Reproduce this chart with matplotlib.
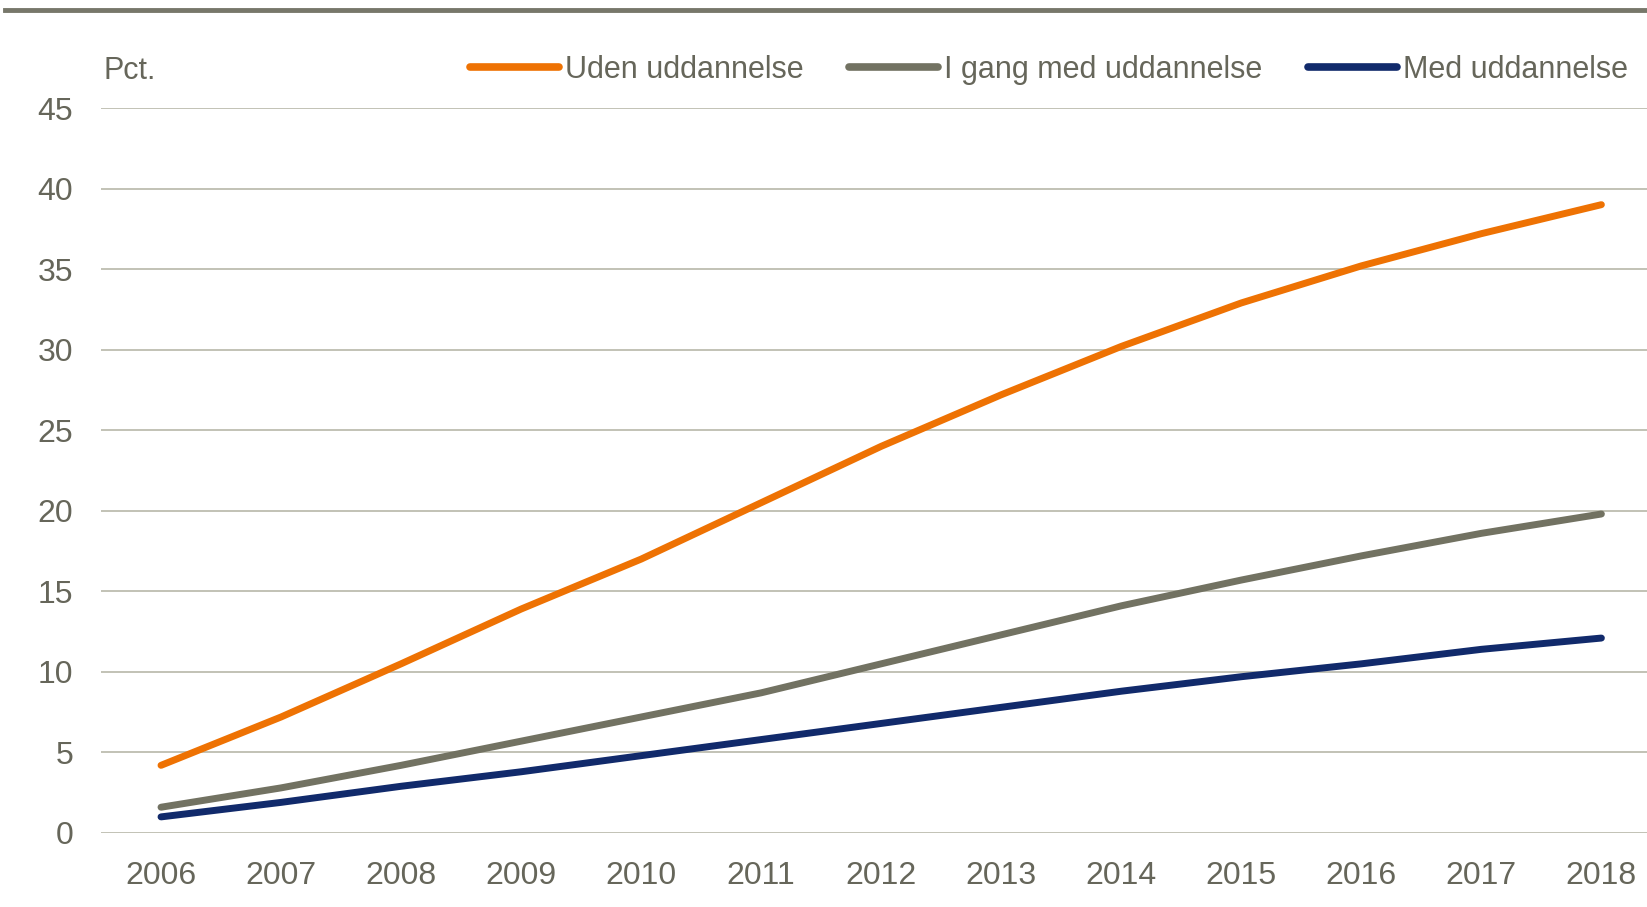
import matplotlib
matplotlib.use("Agg")
import matplotlib.pyplot as plt

years = [2006, 2007, 2008, 2009, 2010, 2011, 2012, 2013, 2014, 2015, 2016, 2017, 2018]
uden = [4.2, 7.2, 10.5, 13.9, 17.0, 20.5, 24.0, 27.2, 30.2, 32.9, 35.2, 37.2, 39.0]
igang = [1.6, 2.8, 4.2, 5.7, 7.2, 8.7, 10.5, 12.3, 14.1, 15.7, 17.2, 18.6, 19.8]
med = [1.0, 1.9, 2.9, 3.8, 4.8, 5.8, 6.8, 7.8, 8.8, 9.7, 10.5, 11.4, 12.1]
labels = ["Uden uddannelse", "I gang med uddannelse", "Med uddannelse"]
colors = ["#ee7203", "#727262", "#112a6b"]
yticks = [0, 5, 10, 15, 20, 25, 30, 35, 40, 45]

plt.rcParams["font.family"] = ["Liberation Sans", "DejaVu Sans"]
txt = "#66665a"

fig = plt.figure(figsize=(16.47, 9.07), dpi=100)
ax = fig.add_axes([101/1647, (907-833)/907, 1-101/1647, (833-108)/907])

for s, lab, c in zip([uden, igang, med], labels, colors):
    ax.plot(years, s, color=c, lw=5, solid_capstyle="round", label=lab, clip_on=False)

ax.set_xlim(2005.5, 2018.38)
ax.set_ylim(0, 45)
ax.set_yticks(yticks)
ax.set_xticks(years)
ax.grid(axis="y", color="#bdbdb0", lw=1.3)
ax.set_axisbelow(True)
for sp in ax.spines.values():
    sp.set_visible(False)
ax.tick_params(length=0, labelsize=23, colors=txt)
ax.tick_params(axis="y", pad=20)
ax.tick_params(axis="x", pad=20)

fig.text(103/1647, 1-71/907, "Pct.", fontsize=22, color=txt, va="center", ha="left")

leg = fig.legend(loc="center right", bbox_to_anchor=(1628/1647, 1-70/907), ncol=3, frameon=False,
                 fontsize=22, handlelength=2.9, handletextpad=0.2, columnspacing=1.5,
                 borderpad=0, borderaxespad=0)
for t in leg.get_texts():
    t.set_color(txt)
for h in leg.legend_handles:
    h.set_linewidth(5.5)
    h.set_solid_capstyle("round")

# top rule
fig.add_artist(plt.Line2D([5/1647, 1], [1-10/907, 1-10/907], color="#77776a", lw=3.5, transform=fig.transFigure))

fig.savefig("out.png", dpi=100)
